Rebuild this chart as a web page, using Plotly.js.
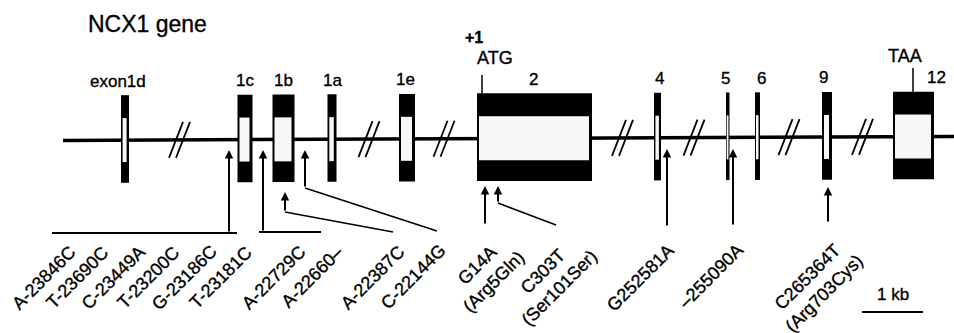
<!DOCTYPE html>
<html>
<head>
<meta charset="utf-8">
<script src="https://cdn.plot.ly/plotly-3.0.1.min.js"></script>
<style>
html,body{margin:0;padding:0;background:#fff;}
#chart{width:954px;height:333px;}
#chart text{stroke:#000;stroke-width:0.35px;}
</style>
</head>
<body>
<div id="chart"></div>
<script>
// ---- Diagram data (diagram units along the gene map) ----
const geneStart = 63, geneEnd = 954;
const exonNames  = ['exon1d','1c','1b','1a','1e','2','4','5','6','9','12'];
const exonStart  = [121, 237.5, 272.5, 327.5, 399, 477, 654, 726, 755, 822, 893];
const exonEnd    = [129, 252.5, 294.5, 336.5, 415, 592, 661, 729.5, 760, 832, 934];
const exonLabelX = [118, 245, 283, 332, 405, 533, 659, 725, 761, 823, 936];
const breakX     = [179.5, 369, 444, 622.5, 694, 789, 862.5];

// polymorphisms: label text and label centre
const snpLabels = ['A-23846C','T-23690C','C-23449A','T-23200C','G-23186C','T-23181C',
  'A-22729C','A-22660–','A-22387C','C-22144G','G14A<br>(Arg5Gln)','C303T<br>(Ser101Ser)',
  'G252581A','–255090A','C265364T<br>(Arg703Cys)'];
const snpLabelX = [43.5, 77, 113, 148, 184, 220, 273, 312, 372, 413, 485, 551, 640, 711, 815];
const snpLabelY = [277.5, 278, 278, 278, 278, 277.5, 277.5, 277, 277.5, 277, 273, 279.5, 277.5, 276, 285];

// arrows: tip, stem end, leader end
const arrowX    = [229, 263, 285, 305, 485, 498, 667, 733, 828];
const arrowTipY = [150, 150, 192, 150, 186, 186, 149, 149, 187];
const arrowBendY= [233, 232, 212, 188, 225, 203, 227, 226, 223];
const leaderEndX= [229, 263, 393, 437, 485, 556, 667, 733, 828];
const leaderEndY= [233, 232, 232, 231, 225, 225, 227, 226, 223];
const bracketX0 = [52, 259];
const bracketX1 = [237, 321];
const bracketY  = [233, 232];

const scaleBarX = [862, 923];
const scaleBarLabel = '1 kb';

// ---- geometry helpers (slight scan tilt) ----
const tilt = x => -0.0045 * (x - 477);
const lineY = x => 138.6 + tilt(x);
const exonTop = x => 93.6 + tilt(x);
const exonBot = x => 181.2 + tilt(x);
const whiteTop = x => 116.5 + tilt(x);
const whiteBot = x => 160.5 + tilt(x);
const labelY = x => 79.5 + tilt(x);

const shapes = [];
shapes.push({type:'line', xref:'x', yref:'y', x0:geneStart, y0:lineY(geneStart), x1:geneEnd, y1:lineY(geneEnd),
  line:{color:'#000', width:3.5}});
breakX.forEach(c => {
  const ly = lineY(c);
  [-3.5, 3.5].forEach(off => {
    shapes.push({type:'line', xref:'x', yref:'y', x0:c+off-7, y0:ly+18, x1:c+off+7, y1:ly-18,
      line:{color:'#000', width:1.8}});
  });
});
exonNames.forEach((n, i) => {
  const x0 = exonStart[i], x1 = exonEnd[i], xm = (x0 + x1) / 2, w = x1 - x0;
  shapes.push({type:'rect', xref:'x', yref:'y', x0:x0, x1:x1, y0:exonTop(xm), y1:exonBot(xm),
    fillcolor:'#000', line:{width:0}});
  const inL = Math.min(2, 0.2 * w), inR = Math.min(3, 0.3 * w);
  shapes.push({type:'rect', xref:'x', yref:'y', x0:x0+inL, x1:x1-inR, y0:whiteTop(xm), y1:whiteBot(xm),
    fillcolor:'#f7f7f7', line:{width:0}});
});
arrowX.forEach((x, i) => {
  if (leaderEndX[i] !== x || leaderEndY[i] !== arrowBendY[i]) {
    shapes.push({type:'line', xref:'x', yref:'y', x0:x, y0:arrowBendY[i], x1:leaderEndX[i], y1:leaderEndY[i],
      line:{color:'#000', width:1.6}});
  }
});
bracketY.forEach((y, i) => {
  shapes.push({type:'line', xref:'x', yref:'y', x0:bracketX0[i], y0:y, x1:bracketX1[i], y1:y,
    line:{color:'#000', width:2.2}});
});
const atgX = 482, taaX = 913;
shapes.push({type:'line', xref:'x', yref:'y', x0:atgX, y0:75, x1:atgX, y1:exonTop(atgX), line:{color:'#000', width:1.5}});
shapes.push({type:'line', xref:'x', yref:'y', x0:taaX, y0:68, x1:taaX, y1:exonTop(taaX), line:{color:'#000', width:1.5}});
shapes.push({type:'line', xref:'x', yref:'y', x0:scaleBarX[0], y0:312, x1:scaleBarX[1], y1:312, line:{color:'#000', width:1.8}});

const FONT = 'Liberation Sans, Arial, Helvetica, sans-serif';
const annotations = [];
exonNames.forEach((n, i) => {
  annotations.push({x:exonLabelX[i], y:labelY(exonLabelX[i]), xref:'x', yref:'y', text:n, showarrow:false,
    xanchor:'center', yanchor:'middle', font:{family:FONT, size:17, color:'#000'}});
});
annotations.push({x:474, y:37, xref:'x', yref:'y', text:'<b>+1</b>', showarrow:false, xanchor:'center', yanchor:'middle',
  font:{family:FONT, size:16, color:'#000'}});
annotations.push({x:495, y:58, xref:'x', yref:'y', text:'ATG', showarrow:false, xanchor:'center', yanchor:'middle',
  font:{family:FONT, size:18, color:'#000'}});
annotations.push({x:905, y:56, xref:'x', yref:'y', text:'TAA', showarrow:false, xanchor:'center', yanchor:'middle',
  font:{family:FONT, size:18, color:'#000'}});
annotations.push({x:(scaleBarX[0]+scaleBarX[1])/2, y:294, xref:'x', yref:'y', text:scaleBarLabel, showarrow:false,
  xanchor:'center', yanchor:'middle', font:{family:FONT, size:17, color:'#000'}});
snpLabels.forEach((t, i) => {
  annotations.push({x:snpLabelX[i], y:snpLabelY[i], xref:'x', yref:'y', text:t, showarrow:false, textangle:-45,
    xanchor:'center', yanchor:'middle', align:'center', font:{family:FONT, size:18, color:'#000'}});
});
arrowX.forEach((x, i) => {
  annotations.push({x:x, y:arrowTipY[i], xref:'x', yref:'y', ax:x, ay:arrowBendY[i], axref:'x', ayref:'y',
    text:'', showarrow:true, arrowhead:2, arrowsize:0.85, arrowwidth:2, arrowcolor:'#000', standoff:0, startstandoff:0});
});

const layout = {
  width:954, height:333,
  margin:{l:0, r:0, t:0, b:0},
  paper_bgcolor:'#fff', plot_bgcolor:'#fff',
  title:{text:'NCX1 gene', x:88/954, xanchor:'left', y:1-24/333, yanchor:'middle', xref:'paper', yref:'paper',
    font:{family:FONT, size:23, color:'#000'}},
  xaxis:{range:[0,954], visible:false, fixedrange:true},
  yaxis:{range:[333,0], visible:false, fixedrange:true},
  showlegend:false,
  shapes:shapes,
  annotations:annotations
};
Plotly.newPlot('chart', [{x:[], y:[], type:'scatter', mode:'lines', hoverinfo:'skip'}], layout, {staticPlot:true, displayModeBar:false});
</script>
</body>
</html>
